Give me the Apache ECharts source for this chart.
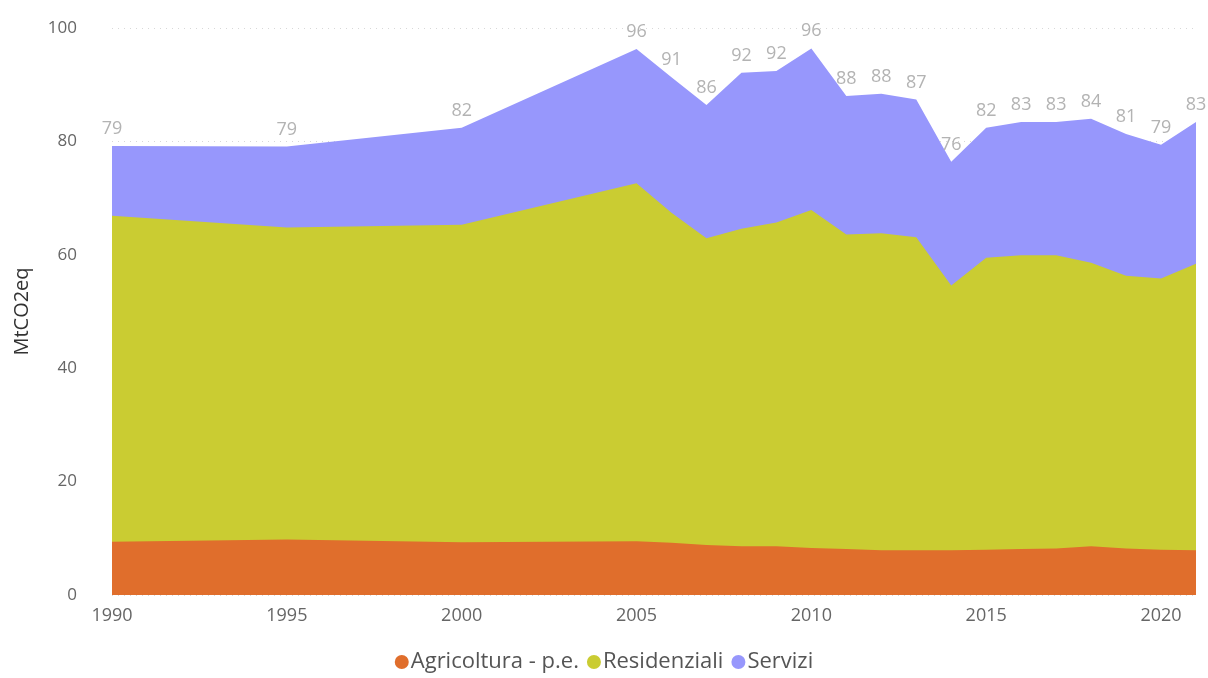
<!DOCTYPE html>
<html>
<head>
<meta charset="utf-8">
<script src="https://cdn.jsdelivr.net/npm/echarts@6/dist/echarts.min.js"></script>
<style>
  html, body { margin: 0; padding: 0; background: #fff; }
  #chart-container { width: 1208px; height: 678px; }
</style>
</head>
<body>
<div id="chart-container"></div>
<script>
var years = [1990, 1995, 2000, 2005, 2006, 2007, 2008, 2009, 2010, 2011, 2012, 2013, 2014, 2015, 2016, 2017, 2018, 2019, 2020, 2021];
var agricoltura = [9.4, 9.8, 9.3, 9.5, 9.2, 8.8, 8.6, 8.6, 8.3, 8.1, 7.9, 7.9, 7.9, 8.0, 8.1, 8.2, 8.6, 8.2, 8.0, 7.9];
var residenziali = [57.5, 55.0, 56.0, 63.1, 58.2, 54.1, 56.0, 57.1, 59.6, 55.5, 55.9, 55.2, 46.7, 51.5, 51.8, 51.7, 50.0, 48.1, 47.8, 50.5];
var servizi = [12.3, 14.3, 17.1, 23.7, 23.9, 23.5, 27.5, 26.7, 28.5, 24.4, 24.6, 24.3, 21.8, 22.9, 23.5, 23.5, 25.4, 25.0, 23.6, 25.0];
var seriesNames = ['Agricoltura - p.e.', 'Residenziali', 'Servizi'];
var colors = ['#E06E2C', '#CACC32', '#9797FC'];

var fontFamily = "'Segoe UI', 'Open Sans', sans-serif";

// value x-axis: build the stacked tops here, each layer drawn over the one above it
var layers = [agricoltura, residenziali, servizi];
var cumul = [];
layers.forEach(function (arr, k) {
    cumul.push(arr.map(function (v, i) { return (k ? cumul[k - 1][i] : 0) + v; }));
});

function pairs(arr) {
    return years.map(function (y, i) { return [y, +arr[i].toFixed(2)]; });
}

function layerSeries(k) {
    var isTop = k === layers.length - 1;
    var s = {
        name: seriesNames[k],
        type: 'line',
        data: pairs(cumul[k]),
        showSymbol: isTop,
        showAllSymbol: true,
        symbol: 'circle',
        symbolSize: 0.1,
        itemStyle: { color: colors[k] },
        lineStyle: { width: 0 },
        areaStyle: { color: colors[k], opacity: 1 }
    };
    if (isTop) {
        s.label = {
            show: true,
            position: 'top',
            distance: 8,
            color: '#b3b3b3',
            fontSize: 18,
            fontFamily: fontFamily,
            formatter: function (p) { return Math.round(p.value[1]); }
        };
    }
    return s;
}

var dom = document.getElementById('chart-container');
var myChart = echarts.init(dom, null, { renderer: 'canvas' });

var seriesList = [];
for (var k = layers.length - 1; k >= 0; k--) {
    seriesList.push(layerSeries(k));
}

var option = {
    animation: false,
    textStyle: { fontFamily: fontFamily },
    grid: { left: 112, right: 12, top: 28, bottom: 83 },
    legend: {
        bottom: 0,
        left: 'center',
        icon: 'circle',
        itemWidth: 14,
        itemHeight: 14,
        itemGap: 8,
        textStyle: { color: '#555', fontSize: 22, fontFamily: fontFamily, padding: [0, 0, 0, -3] },
        data: seriesNames
    },
    xAxis: {
        type: 'value',
        min: 1990,
        max: 2021,
        interval: 5,
        axisLine: { show: false },
        axisTick: { show: false },
        splitLine: { show: false },
        axisLabel: {
            color: '#666',
            fontSize: 18,
            margin: 12,
            showMaxLabel: false,
            formatter: function (v) { return String(v); }
        }
    },
    yAxis: {
        type: 'value',
        min: 0,
        max: 100,
        interval: 20,
        name: 'MtCO2eq',
        nameLocation: 'middle',
        nameGap: 80,
        nameRotate: 90,
        nameTextStyle: { color: '#333', fontSize: 20, fontFamily: fontFamily },
        axisLine: { show: false },
        axisTick: { show: false },
        splitLine: { lineStyle: { color: '#d8d8d8', type: [1, 5], width: 1 } },
        axisLabel: { color: '#666', fontSize: 17, margin: 35 }
    },
    series: seriesList
};

myChart.setOption(option);
window.addEventListener('resize', myChart.resize);
</script>
</body>
</html>
